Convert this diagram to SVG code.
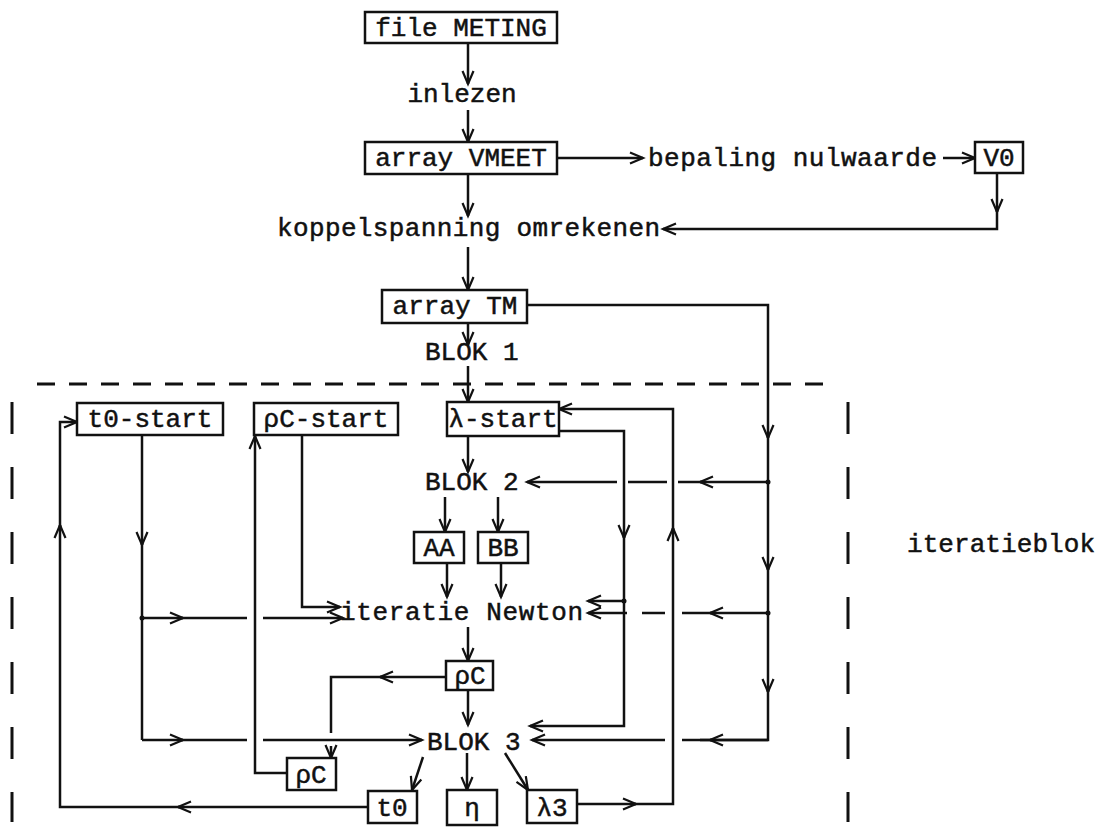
<svg xmlns="http://www.w3.org/2000/svg" width="1101" height="835" viewBox="0 0 1101 835">
<style>
text{font-family:"Liberation Mono","DejaVu Sans Mono",monospace;font-size:26px;fill:#111;stroke:#111;stroke-width:0.5}
.c{text-anchor:middle}
.box{fill:#fff;stroke:#111;stroke-width:2.5}
.ln{fill:none;stroke:#111;stroke-width:2.5}
.a{fill:none;stroke:#111;stroke-width:2.5;marker-end:url(#arr)}
.dash{fill:none;stroke:#111;stroke-width:3}
.dot{fill:#111}
</style>
<defs>
<marker id="arr" markerUnits="userSpaceOnUse" viewBox="-16 -8 18 16" markerWidth="18" markerHeight="16" refX="0" refY="0" orient="auto" overflow="visible">
<path d="M-13,-5.5 L0,0 L-13,5.5" fill="none" stroke="#111" stroke-width="2.2"/>
</marker>
</defs>

<g id="boundary">
<path class="dash" d="M37,384 H823" stroke-dasharray="18 14"/>
<path class="dash" d="M12,402 V822" stroke-dasharray="32 33"/>
<path class="dash" d="M848,402 V822" stroke-dasharray="32 33"/>
</g>

<g id="connectors">
<path class="a" d="M468,43 V84"/>
<path class="a" d="M468,110 V142"/>
<path class="a" d="M557,158 H643"/>
<path class="a" d="M943,158 H975"/>
<path class="a" d="M997,173 V212"/>
<path class="a" d="M997,210 V229 H663"/>
<path class="a" d="M468,174 V216"/>
<path class="a" d="M468,247 V290"/>
<path class="a" d="M468,323 V345"/>
<path class="a" d="M468,366 V402"/>
<!-- array TM line -->
<path class="a" d="M527,305 H768 V438"/>
<path class="a" d="M768,436 V570"/>
<path class="a" d="M768,568 V692"/>
<path class="ln" d="M768,690 V740 H700"/>
<path class="a" d="M768,740 H710"/>
<path class="ln" d="M712,740 H682"/>
<path class="a" d="M665,740 H532"/>
<!-- branch to BLOK 2 -->
<path class="a" d="M768,482 H700"/>
<path class="ln" d="M702,482 H678 M667,482 H628"/>
<path class="a" d="M617,482 H527"/>
<!-- branch to Newton -->
<path class="a" d="M768,613 H710"/>
<path class="ln" d="M712,613 H682 M665,613 H642"/>
<path class="a" d="M627,613 H588"/>
<circle class="dot" cx="768" cy="482" r="2.5"/>
<circle class="dot" cx="768" cy="613" r="2.5"/>
<!-- lambda-start to BLOK 3 -->
<path class="a" d="M559,431 H624 V538"/>
<path class="a" d="M624,536 V726 H530"/>
<path class="a" d="M624,601 H588"/>
<circle class="dot" cx="624" cy="601" r="2.5"/>
<!-- lambda3 back to lambda-start -->
<path class="a" d="M577,804 H636"/>
<path class="a" d="M634,804 H673 V528"/>
<path class="a" d="M673,530 V409 H559"/>
<!-- inner block -->
<path class="a" d="M468,436 V472"/>
<path class="a" d="M445,497 V532"/>
<path class="a" d="M498,497 V532"/>
<path class="a" d="M447,563 V597"/>
<path class="a" d="M501,563 V597"/>
<path class="a" d="M468,627 V661"/>
<path class="a" d="M468,690 V725"/>
<path class="a" d="M446,677 H380"/>
<path class="ln" d="M382,677 H331 V733"/>
<path class="a" d="M331,746 V758"/>
<path class="a" d="M423,757 L412,790"/>
<path class="a" d="M467,753 V790"/>
<path class="a" d="M505,753 L528,790"/>
<!-- t0 loop -->
<path class="a" d="M368,807 H178"/>
<path class="a" d="M180,807 H60 V525"/>
<path class="a" d="M60,527 V422 H77"/>
<!-- t0-start down -->
<path class="a" d="M142,435 V545"/>
<path class="ln" d="M142,543 V740"/>
<path class="a" d="M142,618 H183"/>
<path class="ln" d="M181,618 H247"/>
<path class="a" d="M263,618 H343"/>
<path class="a" d="M142,740 H183"/>
<path class="ln" d="M181,740 H247"/>
<path class="a" d="M263,740 H422"/>
<circle class="dot" cx="142" cy="618" r="2.5"/>
<!-- rhoC-start -->
<path class="a" d="M302,435 V607 H340"/>
<path class="a" d="M287,773 H255 V436"/>
</g>

<g id="n-file"><rect class="box" x="365" y="12" width="192" height="31"/><text class="c" x="461" y="36">file METING</text></g>
<g id="n-inlezen"><text class="c" x="462" y="102">inlezen</text></g>
<g id="n-vmeet"><rect class="box" x="365" y="142" width="192" height="32"/><text class="c" x="461" y="166">array VMEET</text></g>
<g id="n-bepaling"><text x="648" y="166" textLength="289" lengthAdjust="spacing">bepaling nulwaarde</text></g>
<g id="n-v0"><rect class="box" x="975" y="142" width="48" height="31"/><text class="c" x="999" y="166">V0</text></g>
<g id="n-koppel"><text x="277" y="236" textLength="383" lengthAdjust="spacing">koppelspanning omrekenen</text></g>
<g id="n-tm"><rect class="box" x="382" y="290" width="145" height="33"/><text class="c" x="455" y="314">array TM</text></g>
<g id="n-blok1"><text x="425" y="360">BLOK 1</text></g>
<g id="n-t0start"><rect class="box" x="77" y="403" width="146" height="32"/><text class="c" x="150" y="427">t0-start</text></g>
<g id="n-rcstart"><rect class="box" x="254" y="403" width="144" height="32"/><text class="c" x="326" y="427">ρC-start</text></g>
<g id="n-lstart"><rect class="box" x="447" y="402" width="112" height="34"/><text class="c" x="503" y="427">λ-start</text></g>
<g id="n-blok2"><text x="425" y="490">BLOK 2</text></g>
<g id="n-aa"><rect class="box" x="414" y="532" width="50" height="31"/><text class="c" x="439" y="556">AA</text></g>
<g id="n-bb"><rect class="box" x="478" y="532" width="50" height="31"/><text class="c" x="503" y="556">BB</text></g>
<g id="n-newton"><text x="340" y="620" textLength="243" lengthAdjust="spacing">iteratie Newton</text></g>
<g id="n-rc1"><rect class="box" x="446" y="661" width="47" height="29"/><text class="c" x="470" y="684">ρC</text></g>
<g id="n-blok3"><text x="427" y="750">BLOK 3</text></g>
<g id="n-rc2"><rect class="box" x="287" y="758" width="49" height="32"/><text class="c" x="311" y="783">ρC</text></g>
<g id="n-t0"><rect class="box" x="368" y="791" width="49" height="32"/><text class="c" x="392" y="816">t0</text></g>
<g id="n-eta"><rect class="box" x="447" y="790" width="50" height="35"/><text class="c" x="472" y="816">η</text></g>
<g id="n-l3"><rect class="box" x="527" y="790" width="50" height="33"/><text class="c" x="552" y="816">λ3</text></g>
<g id="n-iteratieblok"><text x="907" y="552" textLength="188" lengthAdjust="spacing">iteratieblok</text></g>
</svg>
